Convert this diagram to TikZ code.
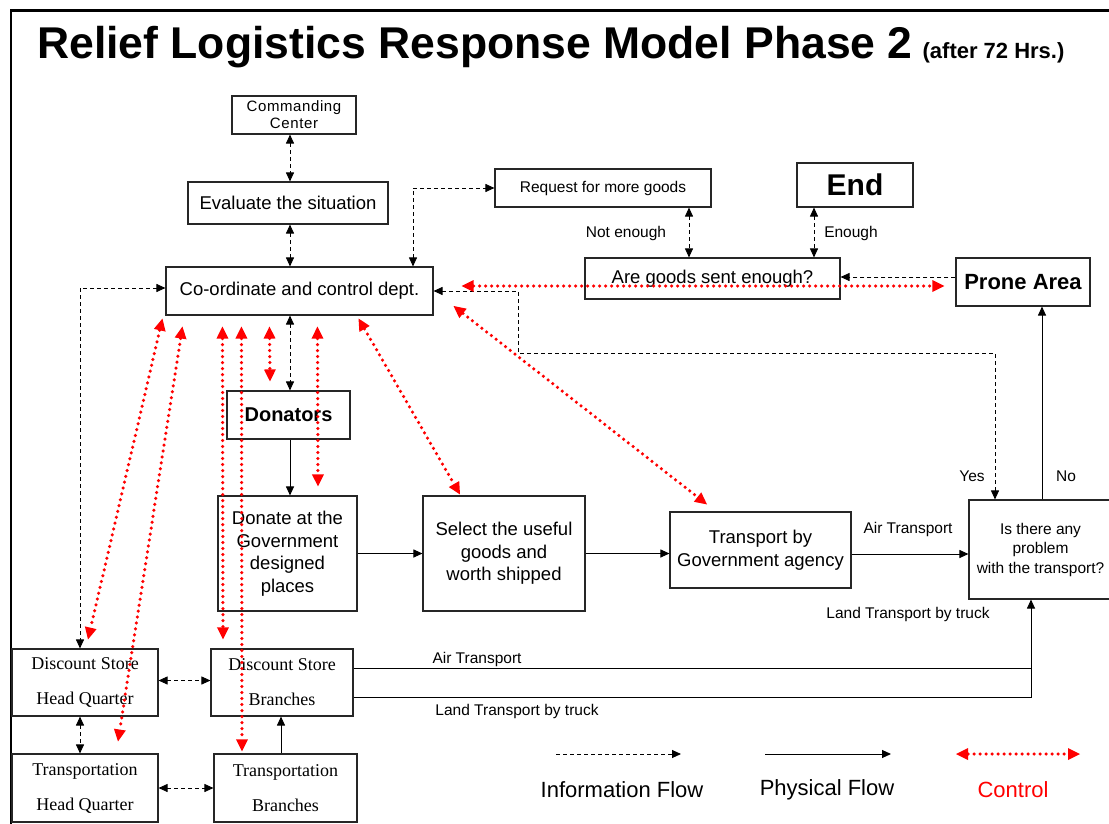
\documentclass[tikz,border=0pt]{standalone}
\usepackage{fontspec}
\setmainfont{Liberation Sans}
\newfontfamily\timesrm{Liberation Serif}
\usetikzlibrary{arrows.meta}

\begin{document}
\begin{tikzpicture}[x=1pt, y=-1pt, >={Triangle[length=9pt,width=8pt]},
		box/.style={draw=black!85, line width=1.1pt, inner sep=0pt, align=center},
		txt/.style={font=\fontsize{18.5}{22.5}\selectfont},
		small/.style={font=\fontsize{15.5}{19.5}\selectfont},
		serifbox/.style={box, font=\timesrm\fontsize{18}{35}\selectfont},
		info/.style={line width=0.9pt, dash pattern=on 4pt off 3pt},
		phys/.style={line width=1pt},
		ctrl/.style={red, line width=3.5pt, line cap=round, dash pattern=on 0pt off 6pt,
			arrows={Triangle[length=12pt,width=12pt,line width=0pt]-Triangle[length=12pt,width=12pt,line width=0pt]}}]
				\useasboundingbox (0,0) rectangle (1109,824);
				\draw[line width=2.4pt] (11,824) -- (11,10.5) -- (1109,10.5);
				\node[anchor=base west, inner sep=0pt, font=\bfseries\fontsize{44.5}{48}\selectfont] (title) at (37,59) {Relief Logistics Response Model Phase 2\hspace{10pt}{\fontsize{22}{26}\selectfont(after 72 Hrs.)}};

				\node[box, minimum width=124pt, minimum height=38pt, font=\addfontfeatures{LetterSpace=4}\fontsize{15}{17}\selectfont] (cmd) at (294,115) {Commanding\\Center};
				\node[box, txt, minimum width=200pt, minimum height=42pt] (eval) at (288,203) {Evaluate the situation};
				\node[box, txt, minimum width=267pt, minimum height=48pt] (coord) at (299.5,291) {Co-ordinate and control dept.};
				\node[box, small, minimum width=216pt, minimum height=38pt] (req) at (603,188) {Request for more goods};
				\node[box, minimum width=116pt, minimum height=44pt, font=\bfseries\fontsize{30}{34}\selectfont] (end) at (855,185) {End};
				\node[box, txt, minimum width=255pt, minimum height=41pt] (ask) at (712.5,278.5) {Are goods sent enough?};
				\node[box, minimum width=134pt, minimum height=48pt, font=\bfseries\fontsize{22}{26}\selectfont] (prone) at (1023,282) {Prone Area};
				\node[box, minimum width=123pt, minimum height=48pt, font=\bfseries\fontsize{20}{24}\selectfont] (don) at (288.5,415) {Donators};
				\node[box, txt, minimum width=139pt, minimum height=115pt] (place) at (287.5,553.5) {Donate at the\\Government\\designed\\places};
				\node[box, txt, minimum width=162pt, minimum height=115pt] (sel) at (504,553.5) {Select the useful\\goods and\\worth shipped};
				\node[box, txt, minimum width=181pt, minimum height=76pt] (trans) at (760.5,550) {Transport by\\Government agency};
				\node[box, small, minimum width=143pt, minimum height=99pt] (prob) at (1040.5,549.5) {Is there any\\problem\\with the transport?};
				\node[serifbox, minimum width=146pt, minimum height=67pt] (dshq) at (85,682.5) {Discount Store\\Head Quarter};
				\node[serifbox, minimum width=142pt, minimum height=67pt] (dsb) at (282,682.5) {Discount Store\\Branches};
				\node[serifbox, minimum width=146pt, minimum height=68pt] (thq) at (85,788) {Transportation\\Head Quarter};
				\node[serifbox, minimum width=143pt, minimum height=68pt] (tb) at (285.5,788) {Transportation\\Branches};

				\node[small] (notenough) at (626,233) {Not enough};
				\node[small] (enough) at (851,233) {Enough};
				\node[small] (yes) at (972,476) {Yes};
				\node[small] (no) at (1066,476) {No};
				\node[small] (airlab) at (908,529) {Air Transport};
				\node[small] (trucklab) at (908,614) {Land Transport by truck};
				\node[small] (airlab2) at (477,659) {Air Transport};
				\node[small] (trucklab2) at (517,711) {Land Transport by truck};

				\draw[info, <->] ([xshift=-4pt]cmd.south) -- ([xshift=2pt]eval.north);
				\draw[info, <->] ([xshift=2pt]eval.south) -- ([xshift=-9.5pt]coord.north);
				\draw[info, <->] ([xshift=-9.5pt]coord.south) -- ([xshift=1.5pt]don.north);
				\draw[info, <->] ([yshift=3pt]coord.west) -| ([xshift=-5pt]dshq.north);
				\draw[info, <->] ([xshift=113.5pt]coord.north) |- (req.west);
				\draw[info, <->] ([xshift=86pt]req.south) -- ([xshift=-23.5pt]ask.north);
				\draw[info, <->] ([xshift=-41pt]end.south) -- ([xshift=101.5pt]ask.north);
				\draw[info, ->] ([yshift=5pt]prone.west) -- ([yshift=1.5pt]ask.east);
				\coordinate (bend) at (518,353);
				\draw[info, <->] ([xshift=-45.5pt]prob.north) |- (bend) |- (coord.east);
				\draw[info, <->] ([yshift=2pt]dshq.east) -- ([yshift=2pt]dsb.west);
				\draw[info, <->] ([xshift=-5pt]dshq.south) -- ([xshift=-5pt]thq.north);
				\draw[info, <->] (thq.east) -- (tb.west);

				\draw[phys, ->] ([xshift=1.5pt]don.south) -- ([xshift=2.5pt]place.north);
				\draw[phys, ->] (place.east) -- (sel.west);
				\draw[phys, ->] (sel.east) -- ([yshift=-3.5pt]trans.west);
				\draw[phys, ->] ([yshift=-4pt]trans.east) -- ([yshift=-4.5pt]prob.west);
				\draw[phys, ->] ([xshift=1.5pt]prob.north) -- ([xshift=19pt]prone.south);
				\draw[phys, ->] ([xshift=-4.5pt]tb.north) -- ([xshift=-1pt]dsb.south);
				\coordinate (air) at ([yshift=14.5pt]dsb.east);
				\coordinate (land) at ([yshift=-14.5pt]dsb.east);
				\coordinate (trk) at ([xshift=-9.5pt]prob.south);
				\draw[phys] (air) -- (air -| trk);
				\draw[phys, ->] (land) -| (trk);

				\draw[ctrl] ([xshift=-3pt,yshift=-3pt]coord.south west) -- ([xshift=3pt,yshift=9pt]dshq.north);
				\draw[ctrl] ([xshift=17pt,yshift=-11pt]coord.south west) -- ([xshift=33pt,yshift=12pt]thq.north);
				\draw[ctrl] ([xshift=57pt,yshift=-11pt]coord.south west) -- ([xshift=-59pt,yshift=9pt]dsb.north);
				\draw[ctrl] ([xshift=76pt,yshift=-11pt]coord.south west) -- ([xshift=-43.5pt,yshift=2pt]tb.north);
				\draw[ctrl] ([xshift=104pt,yshift=-11pt]coord.south west) -- ([xshift=-18.5pt,yshift=9pt]don.north);
				\draw[ctrl] ([xshift=152pt,yshift=-11pt]coord.south west) -- ([xshift=30.5pt,yshift=9pt]place.north);
				\draw[ctrl] ([xshift=-75pt,yshift=-3pt]coord.south east) -- ([xshift=-44pt,yshift=1pt]sel.north);
				\draw[ctrl] ([xshift=20pt,yshift=-15pt]coord.east) -- ([xshift=-53.5pt,yshift=7pt]trans.north);
				\draw[ctrl] ([xshift=28pt,yshift=5pt]coord.east) -- ([xshift=-11pt,yshift=-4pt]prone.west);

				\node[font=\fontsize{22}{26}\selectfont] (infolab) at (622,790) {Information Flow};
				\node[font=\fontsize{22}{26}\selectfont] (physlab) at (827,790) {Physical Flow};
				\node[font=\fontsize{22}{26}\selectfont, red] (ctrllab) at (1013,790) {Control};
				\draw[info, ->] ([xshift=-66pt,yshift=36pt]infolab.center) -- ++(125,0);
				\draw[phys, ->] ([xshift=-62pt,yshift=36pt]physlab.center) -- ++(126,0);
				\draw[ctrl] ([xshift=-57pt,yshift=36pt]ctrllab.center) -- ++(124,0);
			\end{tikzpicture}
\end{document}
